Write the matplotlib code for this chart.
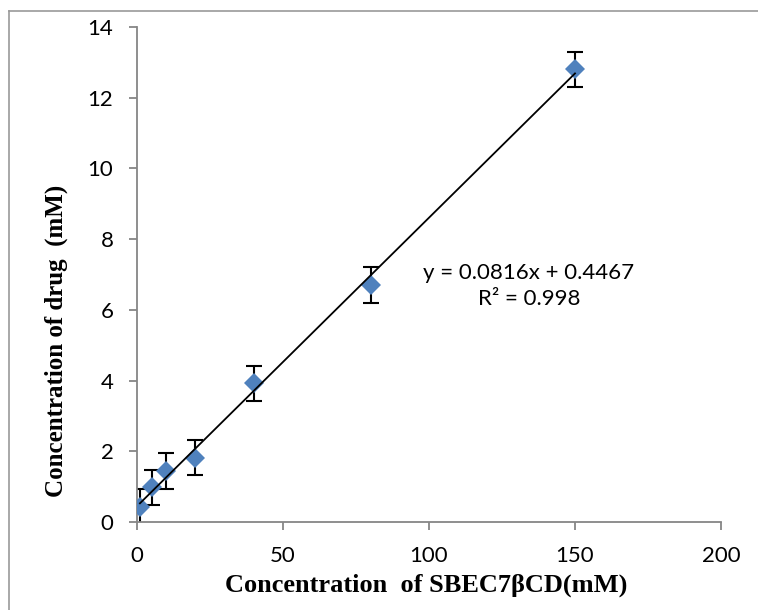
import numpy as np
import matplotlib
matplotlib.use("Agg")
import matplotlib.pyplot as plt
from matplotlib.lines import Line2D

# phase solubility data
sbec_conc = [1, 5, 10, 20, 40, 80, 150]
drug_conc = [0.42, 0.98, 1.44, 1.82, 3.92, 6.70, 12.80]
drug_err = [0.5, 0.5, 0.5, 0.5, 0.5, 0.5, 0.5]

# linear trendline
slope = 0.0816
intercept = 0.4467
r_squared = 0.998

x_ticks = [0, 50, 100, 150, 200]
y_ticks = [0, 2, 4, 6, 8, 10, 12, 14]

W, H = 758, 610
fig = plt.figure(figsize=(W / 100, H / 100), dpi=100)
ax = fig.add_axes([137 / W, 1 - 522 / H, 584 / W, 495 / H])

axis_gray = "#868686"
tick_font = "Lato"

ax.errorbar(sbec_conc, drug_conc, yerr=drug_err, fmt="none", ecolor="black",
            elinewidth=1.5, capsize=5.5, capthick=1.5, zorder=2)
ax.plot(sbec_conc, drug_conc, "D", color="#4F81BD", markersize=10,
        markeredgewidth=0, zorder=3)

xfit = np.array([min(sbec_conc), max(sbec_conc)])
ax.plot(xfit, slope * xfit + intercept, color="black", linewidth=1.3, zorder=4)

ax.set_xlim(0, 200)
ax.set_ylim(0, 14)
ax.set_xticks(x_ticks)
ax.set_yticks(y_ticks)
for s in ["top", "right"]:
    ax.spines[s].set_visible(False)
for s in ["left", "bottom"]:
    ax.spines[s].set_color(axis_gray)
    ax.spines[s].set_linewidth(1.3)
ax.tick_params(direction="out", length=6, width=1.3, color=axis_gray,
               labelsize=16, pad=11)
for lab in ax.get_xticklabels() + ax.get_yticklabels():
    lab.set_fontfamily(tick_font)

# trendline equation
fig.text(529 / W, 1 - 286 / H, f"y = {slope}x + {intercept}\nR\u00b2 = {r_squared}",
         ha="center", va="center", fontsize=16, family=tick_font,
         linespacing=1.4)

fig.text(426 / W, 1 - 585 / H, "Concentration  of SBEC7\u03b2CD(mM)",
         ha="center", va="center", fontsize=19, fontweight="bold",
         family="Liberation Serif")
fig.text(56 / W, 1 - 341 / H, "Concentration of drug  (mM)",
         ha="center", va="center", rotation=90, fontsize=18,
         fontweight="bold", family="Liberation Serif")

# outer chart border
fig.add_artist(Line2D([9 / W, 9 / W], [0, 1 - 11 / H], transform=fig.transFigure,
                      color="#999999", linewidth=1.2))
fig.add_artist(Line2D([9 / W, 1], [1 - 11 / H, 1 - 11 / H], transform=fig.transFigure,
                      color="#999999", linewidth=1.2))

fig.savefig("out.png", dpi=100)
